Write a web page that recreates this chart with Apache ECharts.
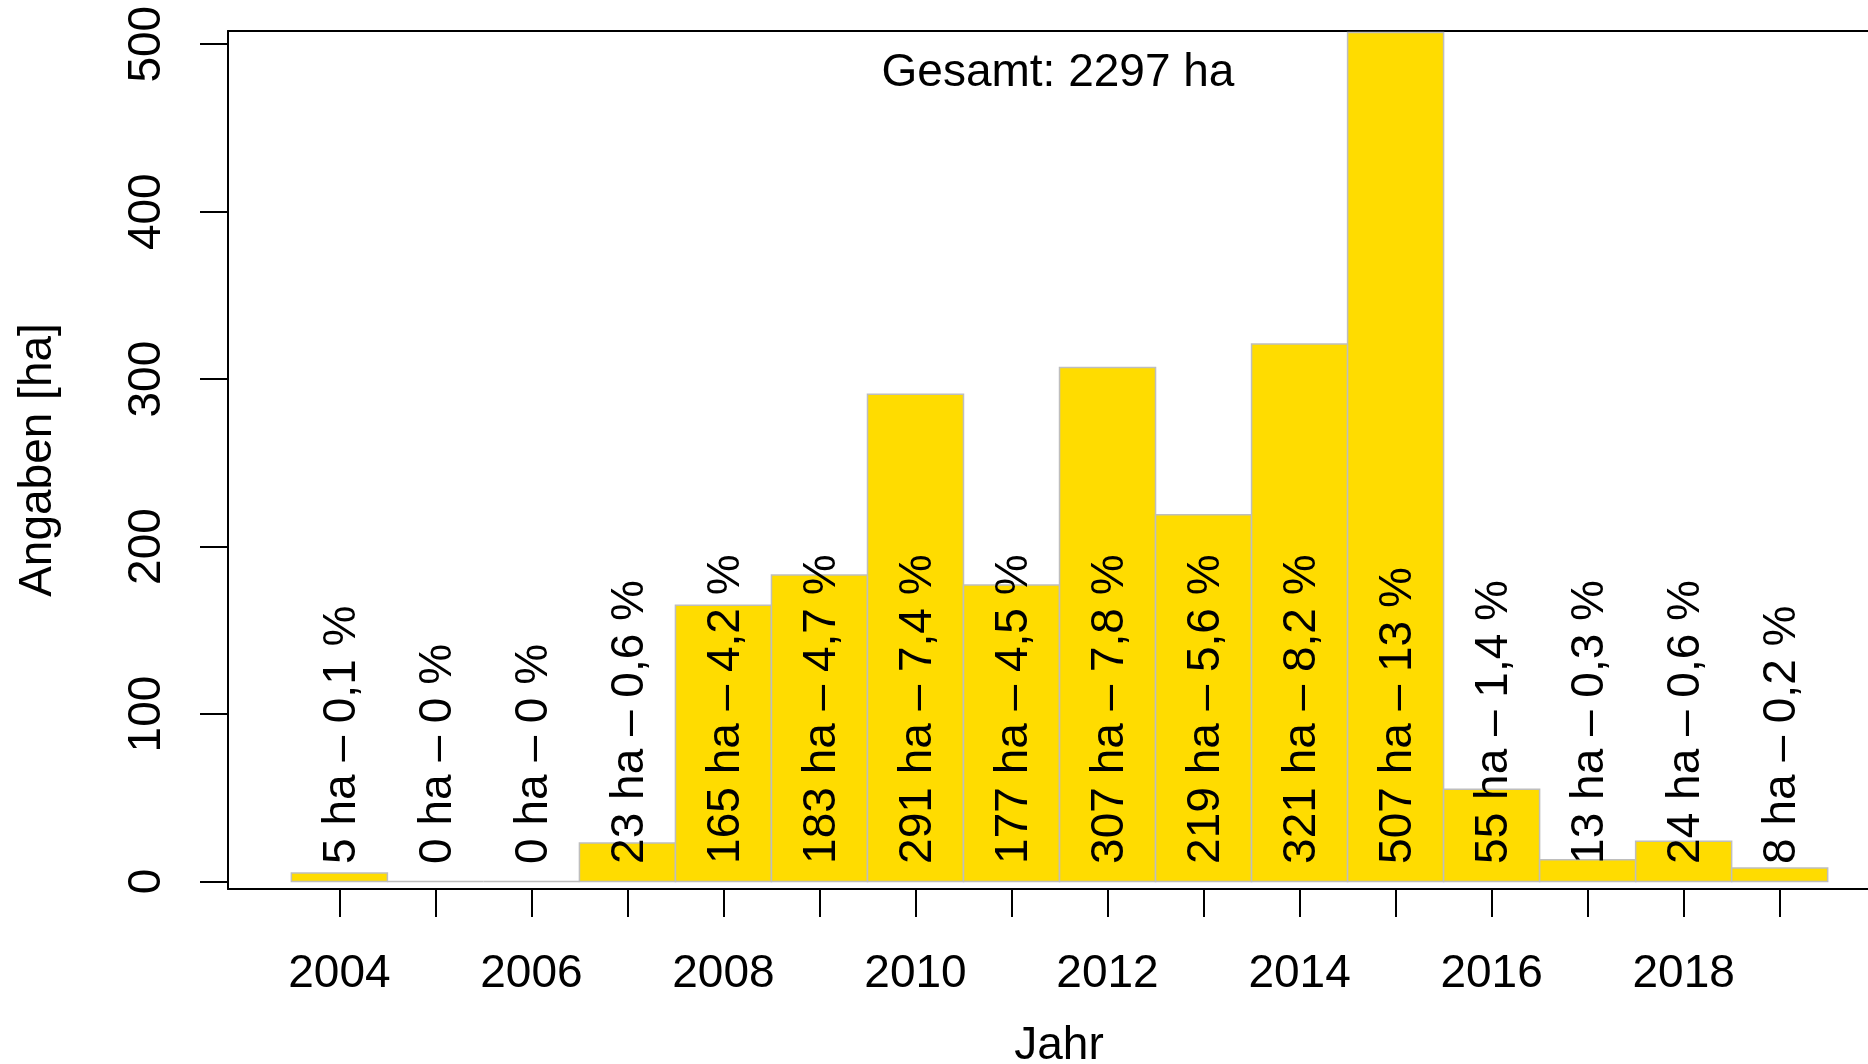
<!DOCTYPE html>
<html>
<head>
<meta charset="utf-8">
<title>Angaben je Jahr</title>
<script src="https://cdn.jsdelivr.net/npm/echarts@6/dist/echarts.min.js"></script>
<style>
    html, body { margin: 0; padding: 0; background: #fff; overflow: hidden; }
    #main { width: 1868px; height: 1064px; }
</style>
</head>
<body>
<div id="main"></div>
<script>
    // data
    var years = [2004, 2005, 2006, 2007, 2008, 2009, 2010, 2011, 2012, 2013, 2014, 2015, 2016, 2017, 2018, 2019];
    var hectares = [5, 0, 0, 23, 165, 183, 291, 177, 307, 219, 321, 507, 55, 13, 24, 8];
    var shares = ['0,1', '0', '0', '0,6', '4,2', '4,7', '7,4', '4,5', '7,8', '5,6', '8,2', '13', '1,4', '0,3', '0,6', '0,2'];
    var yearLabels = [2004, 2006, 2008, 2010, 2012, 2014, 2016, 2018];
    var yTicks = [0, 100, 200, 300, 400, 500];
    var total = 2297;

    var FONT = '"Liberation Sans", Arial, Helvetica, sans-serif';
    var FS = 46;
    var LABEL_BASE = 10.5; // ha, where the rotated labels start
    var X_MIN = 2002.84, X_MAX = 2019.92; // plot box is cut off at the right edge

    var barData = years.map(function (y, i) { return [y, hectares[i]]; });
    var labelData = years.map(function (y, i) { return [y, LABEL_BASE, hectares[i] + ' ha – ' + shares[i] + ' %']; });

    var boxLine = { show: true, onZero: false, lineStyle: { color: '#000', width: 2 } };

    var chart = echarts.init(document.getElementById('main'));
    chart.setOption({
        animation: false,
        backgroundColor: '#fff',
        grid: { left: 228, top: 31, right: 0, bottom: 175, show: false },
        xAxis: [{
            type: 'value',
            min: X_MIN,
            max: X_MAX,
            axisLine: boxLine,
            splitLine: { show: false },
            axisTick: {
                show: true, customValues: years, length: 28,
                lineStyle: { color: '#000', width: 2 }
            },
            axisLabel: {
                customValues: yearLabels, margin: 62,
                fontSize: FS, fontFamily: FONT, color: '#000',
                formatter: function (v) { return String(v); }
            }
        }, {
            // top edge of the box
            type: 'value', position: 'top',
            min: X_MIN, max: X_MAX,
            axisLine: boxLine,
            axisTick: { show: false },
            axisLabel: { show: false },
            splitLine: { show: false }
        }],
        yAxis: {
            type: 'value',
            min: -4.5,
            max: 507.9,
            axisLine: boxLine,
            splitLine: { show: false },
            axisTick: {
                show: true, customValues: yTicks, length: 28,
                lineStyle: { color: '#000', width: 2 }
            },
            axisLabel: {
                customValues: yTicks, rotate: 90, margin: 58,
                fontSize: FS, fontFamily: FONT, color: '#000'
            }
        },
        series: [
            {
                type: 'custom',
                clip: true,
                data: barData,
                renderItem: function (params, api) {
                    var x = api.value(0), v = api.value(1);
                    var p0 = api.coord([x - 0.5, v]);
                    var p1 = api.coord([x + 0.5, 0]);
                    return {
                        type: 'rect',
                        shape: { x: p0[0], y: p0[1], width: p1[0] - p0[0], height: p1[1] - p0[1] },
                        style: { fill: '#FFDC00', stroke: '#BEBEBE', lineWidth: 1.5 }
                    };
                }
            },
            {
                type: 'custom',
                data: labelData,
                renderItem: function (params, api) {
                    var p = api.coord([api.value(0), api.value(1)]);
                    return {
                        type: 'text',
                        x: p[0] + 3,
                        y: p[1],
                        rotation: Math.PI / 2,
                        style: {
                            text: labelData[params.dataIndex][2],
                            font: FS + 'px ' + FONT,
                            fill: '#000',
                            align: 'left', verticalAlign: 'middle',
                            textAlign: 'left', textVerticalAlign: 'middle'
                        }
                    };
                }
            }
        ],
        graphic: [
            {
                type: 'text', x: 1058, y: 73,
                style: {
                    text: 'Gesamt: ' + total + ' ha', font: FS + 'px ' + FONT, fill: '#000',
                    align: 'center', verticalAlign: 'middle', textAlign: 'center', textVerticalAlign: 'middle'
                }
            },
            {
                type: 'text', x: 38, y: 460, rotation: Math.PI / 2,
                style: {
                    text: 'Angaben [ha]', font: FS + 'px ' + FONT, fill: '#000',
                    align: 'center', verticalAlign: 'middle', textAlign: 'center', textVerticalAlign: 'middle'
                }
            },
            {
                type: 'text', x: 1059, y: 1046,
                style: {
                    text: 'Jahr', font: FS + 'px ' + FONT, fill: '#000',
                    align: 'center', verticalAlign: 'middle', textAlign: 'center', textVerticalAlign: 'middle'
                }
            }
        ]
    });
</script>
</body>
</html>
